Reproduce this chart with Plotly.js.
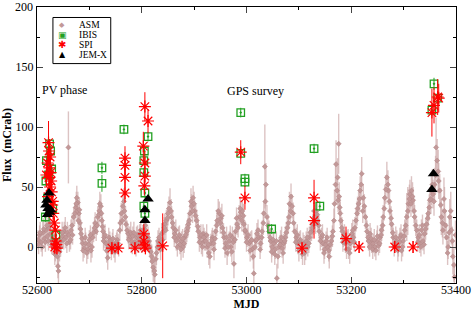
<!DOCTYPE html>
<html><head><meta charset="utf-8">
<script src="https://cdn.plot.ly/plotly-3.0.1.min.js"></script>
<style>html,body{margin:0;padding:0;background:#fff}#c{width:474px;height:311px}</style>
</head><body><div id="c"></div>
<script>
const asmMJD = [52602,52605,52608,52611,52614,52617,52620,52623,52626,52629,52632,52635,52637,52640,52643,52646,52649,52652,52655,52658,52660,52662,52664,52667,52670,52674,52676,52678,52680,52682,52684,52687,52690,52693,52697,52700,52703,52706,52710,52713,52716,52719,52722,52724,52726,52728,52732,52735,52737,52740,52744,52747,52750,52753,52756,52758,52761,52764,52767,52770,52774,52777,52780,52783,52787,52790,52793,52796,52799,52802,52805,52808,52812,52815,52819,52822,52825,52828,52831,52835,52838,52841,52844,52847,52850,52854,52857,52860,52863,52866,52870,52873,52876,52879,52882,52886,52889,52892,52895,52898,52901,52905,52908,52911,52914,52917,52920,52922,52925,52928,52932,52935,52938,52941,52944,52948,52951,52954,52957,52960,52963,52967,52970,52973,52976,52979,52982,52986,52989,52992,52995,52998,53001,53005,53008,53011,53014,53017,53020,53024,53027,53030,53033,53035,53036,53039,53043,53046,53049,53052,53055,53058,53062,53065,53068,53071,53074,53078,53081,53082,53085,53089,53092,53095,53098,53101,53105,53108,53111,53114,53117,53120,53124,53127,53130,53133,53136,53139,53143,53146,53149,53152,53155,53158,53162,53165,53168,53171,53173,53175,53176,53178,53180,53183,53185,53189,53192,53195,53198,53201,53204,53207,53211,53214,53217,53220,53223,53227,53230,53233,53236,53239,53242,53245,53249,53252,53255,53258,53261,53264,53268,53271,53274,53277,53280,53283,53287,53290,53293,53296,53299,53302,53306,53309,53312,53315,53318,53321,53325,53328,53331,53334,53337,53340,53344,53347,53350,53353,53356,53359,53362,53366,53369,53372,53375,53378,53382,53385,53388,53391,53394,53397];
const asmFlux = [6,10,4,12,7,14,9,16,11,6,3,-3,4,-16,-4,5,9,13,8,12,83,4,6,18,25,33,41,37,28,20,11,3,-1,3,-2,6,-3,8,16,13,25,30,34,22,13,8,3,-9,8,2,3,-1,2,6,0,14,28,34,30,19,11,8,5,9,4,8,3,11,6,10,15,9,8,0,-8,-17,-23,-5,5,3,11,13,19,22,28,37,25,16,11,5,8,2,5,0,8,13,19,28,34,41,30,22,13,8,3,11,5,5,0,-5,3,8,-2,13,22,28,24,16,8,3,-5,5,0,8,-14,13,19,25,29,30,19,13,8,3,5,-2,-22,5,11,8,3,13,28,67,38,25,13,5,0,3,-2,-26,0,5,-1,3,8,16,25,36,42,28,13,8,3,5,-2,3,-5,5,0,8,13,19,25,30,22,13,8,3,-2,5,0,-8,5,13,36,69,47,39,86,33,22,13,8,3,5,-2,3,11,8,16,28,36,47,61,41,25,13,5,11,3,3,0,5,1,8,14,25,41,58,47,30,19,8,3,5,0,8,-3,5,14,25,36,44,47,39,25,14,8,3,14,5,11,19,28,39,47,44,52,83,63,47,25,14,30,8,0,25,14,-8,-25];
const asmErr = [8,8,8,9,8,9,8,10,8,8,8,9,8,10,8,9,8,8,9,9,30,8,8,9,8,9,10,9,8,9,8,8,8,9,8,8,10,8,9,8,9,9,10,8,8,9,8,10,8,8,9,8,8,8,8,9,9,10,9,8,8,9,8,8,8,9,8,8,9,8,9,8,9,8,10,12,14,10,9,8,9,8,9,9,10,12,9,9,8,8,9,8,8,9,8,9,9,10,10,10,9,9,8,8,9,8,8,8,9,10,8,8,9,8,9,10,9,8,8,9,10,8,8,9,12,8,9,10,10,9,9,8,8,9,8,9,14,8,9,8,8,9,10,35,12,10,9,8,8,9,8,12,8,9,8,8,9,9,10,10,11,9,8,8,9,8,8,9,10,8,8,9,8,9,10,10,9,8,8,9,8,8,9,10,8,9,12,20,12,10,25,10,9,9,8,8,9,8,8,9,8,9,10,10,12,14,11,10,9,8,9,8,8,8,9,8,8,9,10,11,13,12,10,9,8,8,9,8,8,9,8,9,20,12,12,12,11,10,9,8,8,9,8,9,9,10,11,12,12,14,25,18,14,15,12,20,12,10,15,12,15,12];

const asmMJDb = [52603,52606,52610,52613,52616,52619,52622,52625,52628,52631,
 52634,52639,52641,52645,52648,52651,52654,52657,52661,52665,
 52668,52672,52675,52677,52679,52681,52683,52686,52688,52692,
 52695,52699,52702,52705,52708,52711,52715,52718,52720,52723,
 52725,52727,52730,52733,52736,52739,52742,52745,52749,52752,
 52755,52759,52763,52766,52769,52772,52775,52779,52782,52785,
 52789,52792,52795,52798,52801,52804,52807,52810,52814,52817,
 52820,52824,52827,52830,52833,52836,52840,52843,52846,52849,
 52852,52856,52859,52862,52865,52868,52872,52875,52878,52881,
 52884,52888,52891,52894,52897,52900,52903,52907,52910,52913,
 52916,52919,52924,52927,52930,52934,52937,52940,52943,52946,
 52950,52953,52956,52959,52962,52965,52969,52972,52975,52978,
 52981,52984,52988,52991,52994,52997,53000,53003,53007,53010,
 53013,53016,53019,53022,53026,53029,53032,53037,53041,53045,
 53048,53051,53054,53057,53060,53064,53067,53070,53073,53076,
 53080,53084,53087,53090,53094,53097,53100,53103,53107,53110,
 53113,53116,53119,53122,53126,53129,53132,53135,53138,53141,
 53145,53148,53151,53154,53157,53160,53164,53167,53170,53174,
 53177,53179,53182,53184,53187,53191,53194,53197,53200,53203,
 53206,53209,53212,53216,53219,53222,53225,53229,53232,53235,
 53238,53241,53244,53247,53250,53254,53257,53260,53263,53266,
 53270,53273,53276,53279,53282,53285,53289,53292,53295,53298,
 53301,53304,53308,53311,53314,53317,53320,53323,53327,53330,
 53333,53336,53339,53342,53346,53349,53352,53355,53358,53361,
 53364,53367,53371,53374,53377,53380,53384,53387,53390,53393,
 53396,53399];
const asmFluxb = [2,12,0,15,4,18,5,20,2,8,
 -6,-8,-20,0,12,6,16,3,10,14,
 10,28,36,30,22,31,15,7,-3,8,
 -5,2,10,0,12,20,18,27,36,28,
 17,5,10,-3,0,5,-2,7,-4,4,
 3,20,22,38,25,14,6,12,2,12,
 0,10,6,14,3,12,18,4,5,-4,
 -12,-20,-10,0,8,-2,6,16,14,24,
 32,30,20,8,14,0,10,-2,7,3,
 10,16,22,38,30,36,26,17,4,10,
 0,8,10,2,-8,6,3,7,18,30,
 20,26,12,-1,8,0,10,-4,4,6,
 24,16,32,22,26,14,4,10,-3,6,
 -8,0,6,14,-2,8,20,52,18,8,
 -4,6,-6,5,-8,2,8,-5,5,12,
 20,30,34,20,4,10,-3,6,-6,2,
 -2,8,3,12,16,30,20,27,18,5,
 10,-5,2,8,-3,2,9,22,52,58,
 42,28,16,4,10,-2,6,-5,6,14,
 4,22,32,40,52,30,34,18,8,0,
 7,-2,6,-3,9,3,10,18,32,48,
 52,38,24,12,0,8,-3,4,10,0,
 9,18,30,40,36,42,30,18,4,10,
 0,18,2,15,24,33,40,52,38,60,
 72,55,35,20,40,18,-5,12,30,5,
 -15,10];
const asmErrb = [8,9,8,9,8,10,8,9,8,8,
 9,10,12,8,9,8,9,8,8,9,
 8,9,10,9,8,10,8,8,9,8,
 9,8,8,9,8,9,8,9,10,9,
 8,8,9,10,8,8,9,8,9,8,
 8,9,9,11,9,8,8,9,8,9,
 8,8,9,8,8,9,9,8,8,9,
 10,12,10,8,8,9,8,9,8,9,
 10,10,9,8,9,8,8,9,8,8,
 9,8,9,11,10,10,9,8,8,9,
 8,8,9,8,10,8,9,8,9,10,
 9,10,8,8,9,8,8,9,8,8,
 9,8,10,9,10,8,8,9,9,8,
 10,8,8,9,8,9,10,18,9,8,
 9,8,9,8,10,8,9,9,8,9,
 9,10,10,9,8,9,9,8,9,8,
 9,8,8,9,9,10,9,10,9,8,
 9,9,8,8,9,8,9,10,16,16,
 12,10,9,8,9,8,9,9,8,9,
 8,9,10,11,12,10,10,9,8,8,
 9,8,9,8,9,8,9,9,10,12,
 12,11,10,9,8,9,9,8,9,8,
 9,10,20,12,11,12,10,9,8,9,
 8,9,8,9,10,11,12,13,12,16,
 18,15,14,12,18,12,10,12,16,12,
 14,12];

const ibisMJD = [52616,52617,52618,52620,52622,52624,52626,52628,52630,52636,52724,52724,52766,52812,52805,52804,52804,52806,52804,52806,52989,52989,52997,52997,53048,53129,53140,53354,53358,53365];
const ibisFlux = [25,55,72,41,60,86,80,65,32,10,66,53,98,92,80,72,62,45,34,28,112,78,57,54,15,82,34,114,136,124];
const ibisErr = [4,4,4,4,4,4,4,4,4,4,5,7,4,4,4,4,4,4,4,4,4,4,4,4,4,4,4,5,5,5];

const spiMJD = [52618,52620,52621,52622,52623,52623,52624,52625,52625,52626,52627,52628,52629,52630,52631,52633,52634,52635,52636,52637,52638,52743,52755,52768,52768,52768,52768,52787,52803,52806,52806,52806,52805,52812,52804,52804,52805,52807,52840,52989,52997,53106,53129,53129,53190,53215,53283,53318,53354,53358,53365,53367];
const spiFlux = [60,70,42,87,80,58,66,75,50,62,55,46,35,38,28,20,0,14,5,2,-1,-1,-1,74,68,58,45,-1,84,117,70,59,51,105,11,5,1,-1,1,79,41,-1,41,22,7,0,0,0,112,118,125,124];
const spiErr = [10,10,8,18,10,8,8,10,8,8,8,8,8,8,8,6,6,6,6,5,5,5,5,10,8,8,8,5,12,12,10,8,8,10,8,6,5,5,27,10,10,5,15,15,10,5,5,5,20,15,15,12];

const jemMJD = [52617,52619,52620,52621,52623,52624,52626,52806,52806,52812,53354,53357];
const jemFlux = [35,39,27,32,45,29,31,22,31,40,48,61];

// y-axis tick values; the top label ("200") is drawn as an annotation because the
// native label at the very top edge is not shown in this render
const yTickVals = [0, 50, 100, 150, 200];
const yTickText = ['0', '50', '100', '150', ''];
const yTopLabel = '200';

const legendNames = ['ASM', 'IBIS', 'SPI', 'JEM-X'];
const legendGlyphs = ['\u25C6', '\u25A3', '\u2731', '\u25B2'];

const serif = "'Liberation Serif','Times New Roman',serif";
const asmColor = '#c29898';
const ibisColor = '#22a022';
const spiColor = '#ff0000';
const jemColor = '#000000';
const legendColors = [asmColor, ibisColor, spiColor, jemColor];
const glyphSizes = [7, 9, 10, 8];

const traces = [
  {x: asmMJD.concat(asmMJDb), y: asmFlux.concat(asmFluxb), name: 'ASM', type: 'scatter', mode: 'markers',
   marker: {symbol: 'diamond', size: 4, color: asmColor, line: {width: 0.5, color: '#b08585'}},
   error_y: {type: 'data', array: asmErr.concat(asmErrb), visible: true, color: 'rgba(205,170,170,0.7)', thickness: 1.4, width: 0}},
  {x: ibisMJD, y: ibisFlux, name: 'IBIS', type: 'scatter', mode: 'markers',
   marker: {symbol: 'square-open-dot', size: 7.5, color: ibisColor, line: {width: 1.3, color: ibisColor}},
   error_y: {type: 'data', array: ibisErr, visible: true, color: ibisColor, thickness: 1, width: 0}},
  {x: spiMJD, y: spiFlux, name: 'SPI', type: 'scatter', mode: 'markers',
   marker: {symbol: 'asterisk-open', size: 10, color: spiColor, line: {width: 1.2, color: spiColor}},
   error_y: {type: 'data', array: spiErr, visible: true, color: spiColor, thickness: 1, width: 0}},
  {x: jemMJD, y: jemFlux, name: 'JEM-X', type: 'scatter', mode: 'markers',
   marker: {symbol: 'triangle-up', size: 10, color: jemColor}}
];

const lgX0 = 0.038, lgX1 = 0.176, lgY0 = 0.795, lgY1 = 0.962;
const lgRowTop = 0.935, lgRowStep = 0.036;
const annotations = [
  {x: 52652, y: 131, xref: 'x', yref: 'y', text: 'PV phase', showarrow: false, font: {family: serif, size: 12}},
  {x: 53018, y: 130, xref: 'x', yref: 'y', text: 'GPS survey', showarrow: false, font: {family: serif, size: 12}},
  {x: 0, xref: 'paper', xanchor: 'right', xshift: -3, y: yTickVals[yTickVals.length - 1], yref: 'y',
   yanchor: 'middle', text: yTopLabel, showarrow: false, borderpad: 0, font: {family: serif, size: 12, color: '#000'}}
];
legendNames.forEach((n, i) => {
  const yy = lgRowTop - i * lgRowStep;
  annotations.push({x: 0.060, y: yy, xref: 'paper', yref: 'paper', text: legendGlyphs[i], showarrow: false,
    xanchor: 'center', yanchor: 'middle', borderpad: 0, font: {family: 'DejaVu Sans', size: glyphSizes[i], color: legendColors[i]}});
  annotations.push({x: 0.098, y: yy, xref: 'paper', yref: 'paper', text: n, showarrow: false,
    xanchor: 'left', yanchor: 'middle', borderpad: 0, font: {family: serif, size: 9.5, color: '#000'}});
});

const layout = {
  width: 474, height: 311,
  margin: {l: 37, r: 18, t: 7, b: 28},
  paper_bgcolor: '#fff', plot_bgcolor: '#fff',
  font: {family: serif, color: '#000', size: 12},
  showlegend: false,
  xaxis: {range: [52600, 53400], dtick: 200, tick0: 52600, ticks: 'inside', ticklen: 6, tickwidth: 1,
    showline: true, linecolor: '#000', linewidth: 1, mirror: 'ticks', showgrid: false, zeroline: false,
    tickformat: 'd', tickfont: {family: serif, size: 12}, ticklabelstandoff: -4, ticklabeloverflow: 'allow',
    minor: {dtick: 100, ticks: 'inside', ticklen: 3, tickcolor: '#000', showgrid: false},
    title: {text: '<b>MJD</b>', font: {family: serif, size: 12}, standoff: 0}},
  yaxis: {range: [-30, 200], tickmode: 'array', tickvals: yTickVals, ticktext: yTickText,
    ticks: 'inside', ticklen: 6, tickwidth: 1,
    showline: true, linecolor: '#000', linewidth: 1, mirror: 'ticks', showgrid: false, zeroline: false,
    tickfont: {family: serif, size: 12}, ticklabeloverflow: 'allow',
    minor: {dtick: 25, tick0: 0, ticks: 'inside', ticklen: 3, tickcolor: '#000', showgrid: false},
    title: {text: '<b>Flux  (mCrab)</b>', font: {family: serif, size: 12}, standoff: 4}},
  shapes: [{type: 'rect', xref: 'paper', yref: 'paper', x0: lgX0, x1: lgX1, y0: lgY0, y1: lgY1,
    line: {color: '#000', width: 1}, fillcolor: '#fff', layer: 'above'}],
  annotations: annotations
};

Plotly.newPlot('c', traces, layout, {displayModeBar: false, staticPlot: true});
</script></body></html>
